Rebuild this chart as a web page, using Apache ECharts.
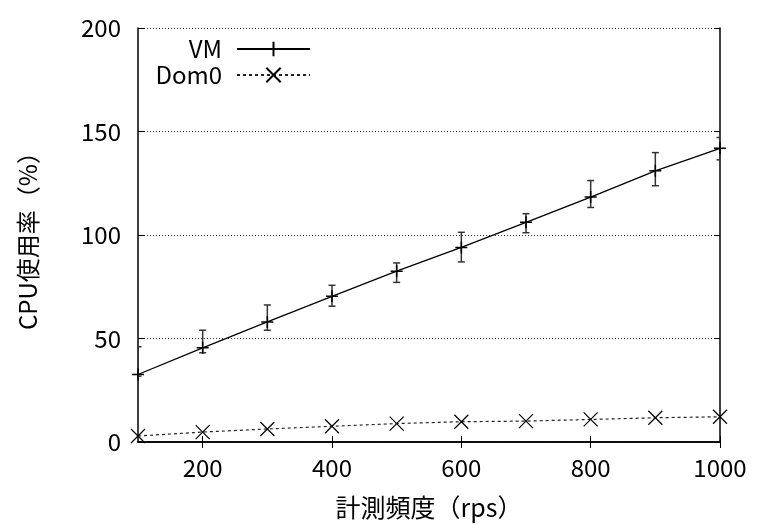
<!DOCTYPE html>
<html>
<head>
<meta charset="utf-8">
<script src="https://cdn.jsdelivr.net/npm/echarts@6/dist/echarts.min.js"></script>
<style>
  html, body { margin: 0; padding: 0; background: #fff; }
  #chart { width: 757px; height: 525px; }
</style>
</head>
<body>
<div id="chart"></div>
<script>
// Request rate (rps) on the x axis
const rps = [100, 200, 300, 400, 500, 600, 700, 800, 900, 1000];
// VM CPU usage (%) with its min / max range
const vmCpu  = [32.6, 45.5, 58.0, 70.4, 82.5, 94.0, 106.1, 118.3, 131.0, 141.9];
const vmLow  = [31.8, 43.1, 54.0, 65.6, 77.1, 87.0, 101.1, 113.3, 123.8, 136.3];
const vmHigh = [46.0, 54.0, 66.2, 75.7, 86.5, 101.3, 110.3, 126.3, 139.8, 147.1];
// Dom0 CPU usage (%)
const dom0Cpu = [2.9, 4.8, 6.3, 7.6, 8.9, 9.8, 10.1, 10.9, 11.7, 12.2];
// Tick labels
const xTicks = [200, 400, 600, 800, 1000];
const yTicks = [0, 50, 100, 150, 200];

const FONT = '"Noto Sans CJK JP", "Noto Sans", sans-serif';
const plusPath = 'path://M0,5L10,5M5,0L5,10';
const crossPath = 'path://M0,0L10,10M10,0L0,10';

const chart = echarts.init(document.getElementById('chart'), null, { renderer: 'canvas' });

const xBase = {
  type: 'value', min: rps[0], max: rps[rps.length - 1],
  axisLine: { show: true, lineStyle: { color: '#000', width: 1.5 } },
  splitLine: { show: false }
};
const yBase = {
  type: 'value', min: yTicks[0], max: yTicks[yTicks.length - 1], interval: 50,
  axisLine: { show: true, lineStyle: { color: '#000', width: 1.5 } }
};

const legendText = { fontFamily: FONT, fontSize: 24, color: '#000', lineHeight: 26, padding: [0, 10, 0, 0] };

const option = {
  animation: false,
  backgroundColor: '#fff',
  grid: { left: 138, right: 37, top: 28, bottom: 80, containLabel: false },
  legend: [
    {
      data: ['VM'], orient: 'vertical', align: 'right', right: 446, top: 36,
      padding: 0, itemWidth: 73, itemHeight: 18, textStyle: legendText
    },
    {
      data: ['Dom0'], orient: 'vertical', align: 'right', right: 446, top: 62,
      padding: 0, itemWidth: 73, itemHeight: 18, textStyle: legendText
    }
  ],
  xAxis: [
    Object.assign({}, xBase, {
      position: 'bottom',
      name: '計測頻度（rps）', nameLocation: 'middle', nameGap: 53,
      nameTextStyle: { fontFamily: FONT, fontSize: 25, color: '#000' },
      axisTick: { show: true, inside: true, length: 6, customValues: xTicks, lineStyle: { color: '#000' } },
      axisLabel: {
        customValues: xTicks, fontFamily: FONT, fontSize: 24, color: '#000', margin: 14,
        formatter: (v) => String(v)
      }
    }),
    Object.assign({}, xBase, {
      position: 'top',
      axisTick: { show: true, inside: true, length: 6, customValues: xTicks, lineStyle: { color: '#000' } },
      axisLabel: { show: false }
    })
  ],
  yAxis: [
    Object.assign({}, yBase, {
      position: 'left',
      name: 'CPU使用率（%）', nameLocation: 'middle', nameGap: 98,
      nameTextStyle: { fontFamily: FONT, fontSize: 24, color: '#000' },
      axisTick: { show: true, inside: true, length: 6, lineStyle: { color: '#000' } },
      axisLabel: { fontFamily: FONT, fontSize: 24, color: '#000', margin: 17, formatter: (v) => String(v) },
      splitLine: { show: true, lineStyle: { color: '#333', width: 1, type: [1, 2] } }
    }),
    Object.assign({}, yBase, {
      position: 'right',
      axisTick: { show: true, inside: true, length: 6, lineStyle: { color: '#000' } },
      axisLabel: { show: false },
      splitLine: { show: false }
    })
  ],
  series: [
    {
      name: 'VM', type: 'line', xAxisIndex: 0, yAxisIndex: 0,
      data: rps.map((x, i) => [x, vmCpu[i]]),
      symbol: plusPath, symbolSize: 12, showSymbol: true,
      lineStyle: { color: '#000', width: 1.3 },
      itemStyle: { color: '#000', borderColor: '#000', borderWidth: 1.5 },
      z: 3
    },
    {
      name: 'VM-range', type: 'custom', xAxisIndex: 0, yAxisIndex: 0,
      clip: true, silent: true, z: 2,
      data: rps.map((x, i) => [x, vmLow[i], vmHigh[i]]),
      renderItem: function (params, api) {
        const lo = api.coord([api.value(0), api.value(1)]);
        const hi = api.coord([api.value(0), api.value(2)]);
        const w = 3.5;
        const style = { stroke: '#333', lineWidth: 1.5 };
        return {
          type: 'group',
          children: [
            { type: 'line', shape: { x1: lo[0], y1: lo[1], x2: hi[0], y2: hi[1] }, style: style },
            { type: 'line', shape: { x1: lo[0] - w, y1: lo[1], x2: lo[0] + w, y2: lo[1] }, style: style },
            { type: 'line', shape: { x1: hi[0] - w, y1: hi[1], x2: hi[0] + w, y2: hi[1] }, style: style }
          ]
        };
      }
    },
    {
      name: 'Dom0', type: 'line', xAxisIndex: 0, yAxisIndex: 0,
      data: rps.map((x, i) => [x, dom0Cpu[i]]),
      symbol: crossPath, symbolSize: 14, showSymbol: true,
      lineStyle: { color: '#222', width: 1.2, type: [3, 3] },
      itemStyle: { color: '#000', borderColor: '#000', borderWidth: 1.2 },
      z: 3
    }
  ]
};

chart.setOption(option);
</script>
</body>
</html>
